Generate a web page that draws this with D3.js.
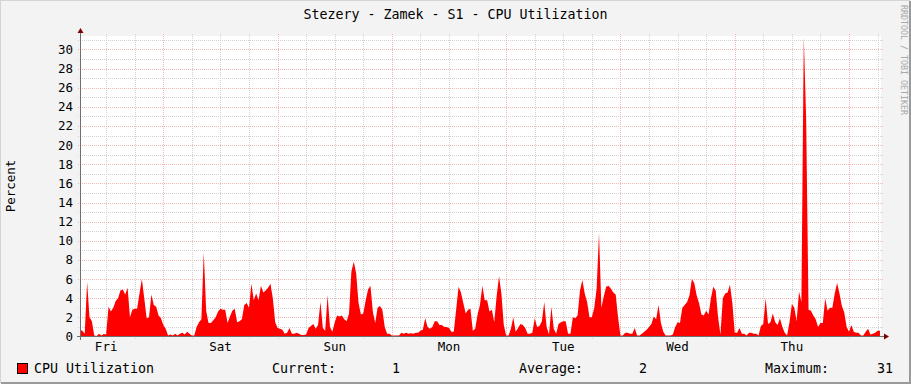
<!DOCTYPE html>
<html>
<head>
<meta charset="utf-8">
<script src="https://cdn.jsdelivr.net/npm/d3@7"></script>
<style>
body { margin: 0; background: #f3f3f3; }
text { font-family: "DejaVu Sans Mono", monospace; }
</style>
</head>
<body>
<div id="plothere"></div>
<script>
// half-hour samples of CPU utilization (%), Fri 06:30 -> next Fri 06:30
var fri = [0.7, 0.6, 0.3, 5.7, 2.0, 1.6, 0.1, 0.05, 0.3, 0.1, 0.25, 0.2, 3.1, 2.6, 3.0, 3.7, 4.0, 4.8,
  4.9, 4.4, 5.1, 2.0, 2.8, 2.9, 2.9, 4.5, 6.0, 4.0, 1.9, 2.0, 4.4, 3.3, 3.1, 2.2, 1.9];
var sat = [1.2, 0.8, 0.1, 0.2, 0.1, 0.3, 0.1, 0.3, 0.4, 0.2, 0.5, 0.3, 0.1, 0.1, 1.0, 1.5, 1.8, 8.8,
  2.7, 1.4, 1.4, 1.7, 2.0, 2.6, 2.9, 2.8, 2.8, 1.4, 2.1, 2.7, 2.9, 1.5, 1.6, 1.8, 3.3, 3.5,
  3.0, 5.5, 3.8, 4.5, 3.8, 5.3, 4.6, 4.8, 5.1, 5.5, 4.0, 1.5];
var sun = [0.9, 0.8, 0.7, 0.3, 0.4, 0.9, 0.3, 0.3, 0.4, 0.3, 0.15, 0.15, 0.2, 0.9, 1.1, 1.3, 0.8, 1.2,
  3.6, 0.9, 0.6, 4.3, 1.0, 0.5, 1.5, 2.2, 2.1, 2.2, 1.8, 1.6, 2.4, 6.8, 7.8, 6.6, 3.5, 2.3,
  2.4, 3.8, 4.9, 5.3, 2.6, 1.4, 3.0, 3.2, 2.8, 1.0, 0.3, 0.3];
var mon = [0.1, 0.1, 0.1, 0.1, 0.4, 0.3, 0.4, 0.3, 0.35, 0.3, 0.4, 0.4, 0.6, 0.7, 1.9, 1.0, 0.8, 1.0,
  1.6, 1.6, 1.2, 1.2, 1.0, 1.0, 0.9, 0.5, 0.5, 2.8, 5.2, 4.6, 3.5, 2.4, 2.8, 2.9, 0.6, 0.8,
  2.3, 3.3, 5.3, 3.8, 3.8, 2.6, 2.8, 1.5, 4.2, 6.3, 4.5, 1.2];
var tue = [0.1, 0.1, 0.8, 2.0, 0.5, 0.9, 1.3, 1.2, 0.9, 0.3, 0.3, 0.4, 1.9, 1.0, 1.1, 1.6, 3.6, 1.0,
  0.2, 3.1, 0.8, 0.3, 1.3, 1.5, 1.6, 1.6, 0.3, 0.3, 2.0, 1.9, 2.2, 4.8, 5.9, 4.5, 3.6, 2.0,
  2.0, 3.0, 5.0, 10.8, 3.0, 4.2, 5.2, 5.3, 5.0, 4.6, 4.4, 2.0];
var wed = [0.1, 0.1, 0.4, 0.4, 0.3, 0.3, 0.9, 0.1, 0.1, 0.3, 0.5, 0.7, 1.0, 1.3, 2.1, 1.8, 3.3, 1.4,
  0.5, 0.1, 0.1, 0.1, 0.2, 1.0, 1.5, 1.4, 3.0, 3.3, 3.6, 4.3, 6.0, 5.6, 4.3, 3.5, 2.3, 2.2,
  2.7, 2.3, 4.0, 5.2, 4.8, 2.0, 0.2, 4.0, 4.5, 4.6, 5.4, 3.5];
var thu = [0.4, 0.4, 0.9, 0.3, 0.3, 0.1, 0.4, 0.4, 0.3, 0.3, 0.1, 1.1, 1.3, 4.0, 1.3, 1.5, 2.4, 1.5,
  1.2, 1.9, 1.0, 0.4, 0.1, 1.5, 3.4, 3.0, 1.6, 4.7, 3.6, 31.3, 22.7, 2.8, 2.7, 2.2, 1.8, 1.0,
  1.4, 1.4, 4.0, 2.7, 3.0, 3.0, 4.5, 5.6, 4.5, 3.2, 2.5, 1.0];
var friNext = [0.5, 1.2, 0.5, 0.4, 0.4, 0.1, 0.1, 0.5, 0.8, 0.2, 0.3, 0.4, 0.6, 0.6];

var dayLabels = ["Fri", "Sat", "Sun", "Mon", "Tue", "Wed", "Thu"];
var legendStats = [["Current:", "1"], ["Average:", "2"], ["Maximum:", "31"]];

var seriesStart = Date.UTC(2014, 0, 3, 6, 30);
var t0 = new Date(Date.UTC(2014, 0, 3, 6, 43)),
    t1 = new Date(Date.UTC(2014, 0, 10, 6, 43));

function Plot(data){
  var W = 911, H = 384;
  var svg = d3.select("#plothere")
    .append("svg")
    .attr("width", W)
    .attr("height", H)
    .style("display", "block");

  // background + 3d shade border
  svg.append("rect").attr("width", W).attr("height", H).attr("fill", "#f3f3f3");
  svg.append("path").attr("d", "M0,383V0H910").attr("fill", "none").attr("stroke", "#d4d4d4").attr("stroke-width", 2);
  svg.append("path").attr("d", "M1,383H910V1").attr("fill", "none").attr("stroke", "#9a9a9a").attr("stroke-width", 2);

  var x = d3.scaleUtc().domain([t0, t1]).range([81, 881]);
  var y = d3.scaleLinear().domain([0, 31.35]).range([336.5, 36.5]);

  svg.append("rect").attr("x", 81).attr("y", 36).attr("width", 800).attr("height", 300).attr("fill", "#ffffff");

  var px = function(v) { return Math.round(v) + 0.5; };

  // minor grid
  var g = svg.append("g");
  d3.range(1, 32, 2).forEach(function(v){
    g.append("line").attr("x1", 78).attr("x2", 884).attr("y1", px(y(v))).attr("y2", px(y(v)))
      .attr("stroke", "#d2d2d2").attr("stroke-dasharray", "1,1");
  });
  d3.utcHour.every(6).range(t0, t1).forEach(function(d){
    if (d.getUTCHours() == 0) return;
    g.append("line").attr("x1", px(x(d))).attr("x2", px(x(d))).attr("y1", 34).attr("y2", 339)
      .attr("stroke", "#d2d2d2").attr("stroke-dasharray", "1,1");
  });
  // major grid
  d3.range(2, 31, 2).forEach(function(v){
    g.append("line").attr("x1", 78).attr("x2", 884).attr("y1", px(y(v))).attr("y2", px(y(v)))
      .attr("stroke", "#efb6b6").attr("stroke-dasharray", "1,1");
  });
  d3.utcDay.range(t0, t1).forEach(function(d){
    g.append("line").attr("x1", px(x(d))).attr("x2", px(x(d))).attr("y1", 34).attr("y2", 339)
      .attr("stroke", "#efb6b6").attr("stroke-dasharray", "1,1");
  });

  // area
  svg.append("clipPath").attr("id", "clip").append("rect")
    .attr("x", 81).attr("y", 36).attr("width", 800).attr("height", 301);
  svg.append("path")
    .datum(data)
    .attr("clip-path", "url(#clip)")
    .attr("fill", "#ff0000")
    .attr("d", d3.area()
      .x(function(d) { return x(d.t); })
      .y0(y(0))
      .y1(function(d) { return y(d.v); }));

  // axes with arrows
  svg.append("line").attr("x1", 77).attr("x2", 885).attr("y1", 336.5).attr("y2", 336.5).attr("stroke", "#6e6e6e");
  svg.append("line").attr("x1", 80.5).attr("x2", 80.5).attr("y1", 340).attr("y2", 32).attr("stroke", "#6e6e6e");
  svg.append("path").attr("d", "M884,333.5L889,336.5L884,339.5Z").attr("fill", "#7f0000");
  svg.append("path").attr("d", "M77.5,33L80.5,28L83.5,33Z").attr("fill", "#7f0000");

  // y labels
  d3.range(0, 31, 2).forEach(function(v){
    svg.append("text").attr("x", 73).attr("y", y(v) + 4.5).attr("text-anchor", "end")
      .attr("font-size", "12.5px").text(v);
  });
  // x labels centred on noon of each day
  var noons = d3.utcDay.range(t0, t1).map(function(d){ return d3.utcHour.offset(d, -12); });
  noons.forEach(function(n, i){
    svg.append("text").attr("x", x(n)).attr("y", 351).attr("text-anchor", "middle")
      .attr("font-size", "12.5px").text(dayLabels[i]);
  });

  svg.append("text").attr("transform", "translate(15,186) rotate(-90)").attr("text-anchor", "middle")
    .attr("font-size", "12.5px").text("Percent");

  svg.append("text").attr("x", 455.5).attr("y", 19).attr("text-anchor", "middle")
    .attr("font-size", "13.3px").text("Stezery - Zamek - S1 - CPU Utilization");

  svg.append("text").attr("transform", "translate(901,5) rotate(90)")
    .attr("font-size", "8.3px").attr("fill", "#a8a8a8").text("RRDTOOL / TOBI OETIKER");

  // legend
  svg.append("rect").attr("x", 17.5).attr("y", 363.5).attr("width", 10).attr("height", 10)
    .attr("fill", "#ff0000").attr("stroke", "#000");
  svg.append("text").attr("x", 34).attr("y", 373).attr("font-size", "13.3px").text("CPU Utilization");
  var lx = [272, 519, 765];
  legendStats.forEach(function(s, i){
    var label = s[0] + "        ".slice(0, 8 - s[1].length) + s[1];
    svg.append("text").attr("x", lx[i]).attr("y", 373).attr("font-size", "13.3px")
      .attr("xml:space", "preserve").style("white-space", "pre").text(label);
  });
}

var all = [].concat(fri, sat, sun, mon, tue, wed, thu, friNext);
var data = all.map(function(v, i){ return {t: new Date(seriesStart + i * 1800e3), v: v}; });
Plot(data);
</script>
</body>
</html>
